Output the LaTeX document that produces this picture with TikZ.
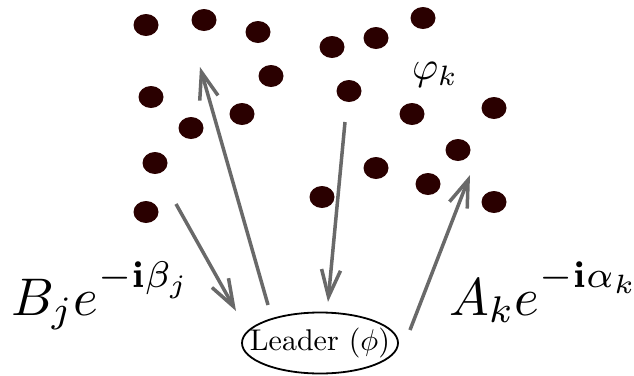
\documentclass[tikz,border=0pt]{standalone}
\usetikzlibrary{arrows.meta,shapes.geometric}
\definecolor{dotred}{RGB}{42,0,0}
\definecolor{arrgray}{RGB}{105,105,105}
\newcommand{\upsup}[1]{\raisebox{1.5pt}{$\scriptstyle #1$}}
\tikzset{
  dot/.style={ellipse,fill=dotred,draw=none,minimum width=25pt,minimum height=22pt,inner sep=0pt},
  conn/.style={draw=arrgray,line width=3.5pt,-{Straight Barb[length=27pt,width=19pt,line width=3.5pt]}},
  bigmath/.style={scale=5.3,inner sep=0pt,anchor=base west},
}
\begin{document}
\begin{tikzpicture}[x=1pt,y=-1pt]
\useasboundingbox (0,0) rectangle (634,375);
\node[dot] (d1) at (146,25) {};
\node[dot] (d2) at (204,20) {};
\node[dot] (d3) at (258,32) {};
\node[dot] (d4) at (332,47) {};
\node[dot] (d5) at (376,38) {};
\node[dot] (d6) at (423,18) {};
\node[dot] (d7) at (271,76) {};
\node[dot] (d8) at (151,97) {};
\node[dot] (d9) at (191,128) {};
\node[dot] (d10) at (242,114) {};
\node[dot] (d11) at (349,91) {};
\node[dot] (d12) at (412,114) {};
\node[dot] (d13) at (494,108) {};
\node[dot] (d14) at (155,163) {};
\node[dot] (d15) at (458,150) {};
\node[dot] (d16) at (376,168) {};
\node[dot] (d17) at (428,184) {};
\node[dot] (d18) at (146,212) {};
\node[dot] (d19) at (322,197) {};
\node[dot] (d20) at (494,202) {};
\node[scale=4,inner sep=0pt] (phi) at (435,75) {$\varphi_k$};
\node[scale=3,inner sep=0pt] (leader) at (320,343) {Leader $(\phi)$};
\draw[line width=1.8pt] (leader.center) ellipse [x radius=78pt, y radius=30.5pt];
\node[bigmath] (B) at (10,315) {$B_je^{\upsup{-\mathbf{i}\beta_j}}$};
\node[bigmath] (A) at (448,315) {$A_ke^{\upsup{-\mathbf{i}\alpha_k}}$};
\coordinate (a1) at (176,204); \coordinate (a2) at (236,311);
\coordinate (b1) at (268,305); \coordinate (b2) at (200,67);
\coordinate (c1) at (345,122); \coordinate (c2) at (328,302);
\coordinate (e1) at (410,330); \coordinate (e2) at (470,175);
\draw[conn] (a1) -- (a2);
\draw[conn] (b1) -- (b2);
\draw[conn] (c1) -- (c2);
\draw[conn] (e1) -- (e2);
\end{tikzpicture}
\end{document}
